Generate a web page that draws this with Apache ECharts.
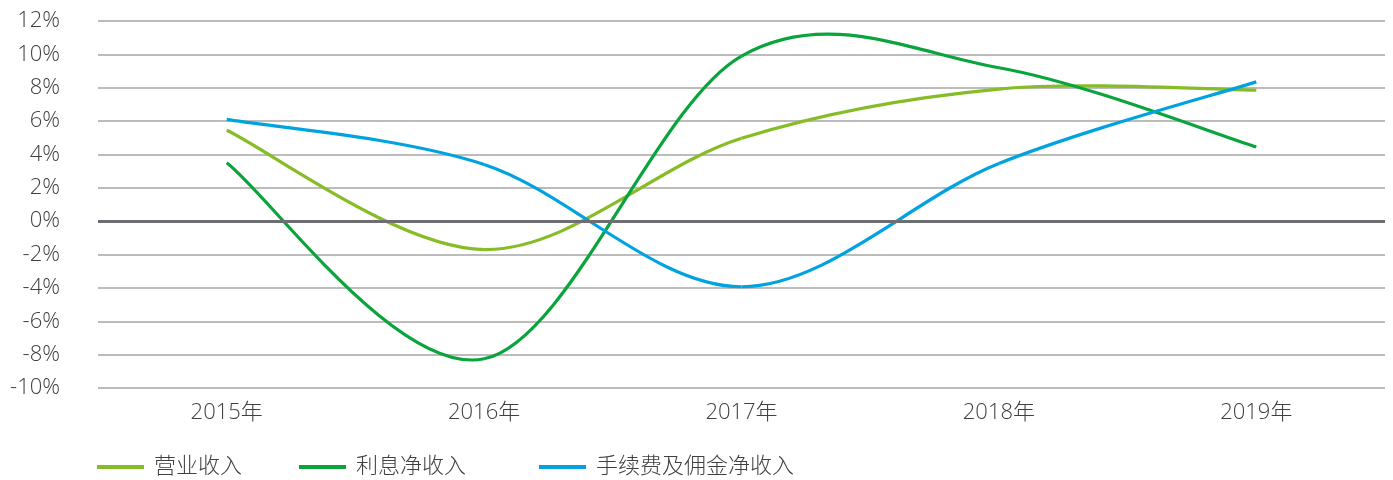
<!DOCTYPE html>
<html><head><meta charset="utf-8">
<script src="https://cdn.jsdelivr.net/npm/echarts@6/dist/echarts.min.js"></script>
<style>html,body{margin:0;padding:0;background:#fff}#c{width:1393px;height:480px}</style>
</head><body><div id="c"></div>
<script>
const categories = ['2015年','2016年','2017年','2018年','2019年'];
const revenue = [5.45, -1.7, 4.97, 7.92, 7.85];
const interest = [3.5, -8.25, 9.9, 9.2, 4.45];
const fee = [6.1, 3.4, -3.93, 3.46, 8.35];
const seriesNames = ['营业收入','利息净收入','手续费及佣金净收入'];
const colors = ['#86bc25','#0aa43c','#00a3e0'];

const font = '"Open Sans","Noto Sans CJK SC",sans-serif';
const txt = {color:'#404040', fontSize:22, fontFamily:font, fontWeight:300};
const chart = echarts.init(document.getElementById('c'));
const data = [revenue, interest, fee];
const legendLefts = [92, 294, 534];

// Smooth (Catmull-Rom style) segment from point i to i+1, coordinates from the axes
function makeRender(values, color){
  return function(params, api){
    const i = params.dataIndex;
    if (i >= values.length - 1) return null;
    const n = values.length;
    const p = k => api.coord([Math.max(0, Math.min(n-1, k)), values[Math.max(0, Math.min(n-1, k))]]);
    const p0 = p(i-1), p1 = p(i), p2 = p(i+1), p3 = p(i+2);
    const c1 = [p1[0] + (p2[0]-p0[0])/6, p1[1] + (p2[1]-p0[1])/6];
    const c2 = [p2[0] - (p3[0]-p1[0])/6, p2[1] - (p3[1]-p1[1])/6];
    return {type:'bezierCurve',
      shape:{x1:p1[0],y1:p1[1],x2:p2[0],y2:p2[1],cpx1:c1[0],cpy1:c1[1],cpx2:c2[0],cpy2:c2[1]},
      style:{stroke:color,lineWidth:3.2,fill:null,lineCap:'butt'}};
  };
}

chart.setOption({
  animation:false,
  grid:{left:98,right:8,top:21,bottom:92},
  xAxis:{type:'category',data:categories,boundaryGap:true,
    axisLine:{show:false},axisTick:{show:false},
    axisLabel:Object.assign({margin:14},txt)},
  yAxis:{type:'value',min:-10,max:12,interval:2,
    axisLabel:Object.assign({margin:38,formatter:'{value}%'},txt),
    axisLine:{show:false},axisTick:{show:false},
    splitLine:{lineStyle:{color:'#a6a6a6',width:1.5}}},
  legend: seriesNames.map((n,i)=>({data:[n],left:legendLefts[i],top:451,
    icon:'rect',itemWidth:47,itemHeight:4,
    textStyle:Object.assign({padding:[0,0,0,5]},txt)})),
  series: [
    {type:'line',data:[],silent:true,
      markLine:{silent:true,symbol:'none',label:{show:false},animation:false,
        lineStyle:{color:'#6d6e71',width:3,type:'solid'},data:[{yAxis:0}]}}
  ].concat(seriesNames.map((n,i)=>({name:n,type:'custom',
    data:data[i].map((v,k)=>[k,v]),
    encode:{x:0,y:1},
    color:colors[i], itemStyle:{color:colors[i]},
    renderItem:makeRender(data[i], colors[i]), z:3})))
});
</script></body></html>
